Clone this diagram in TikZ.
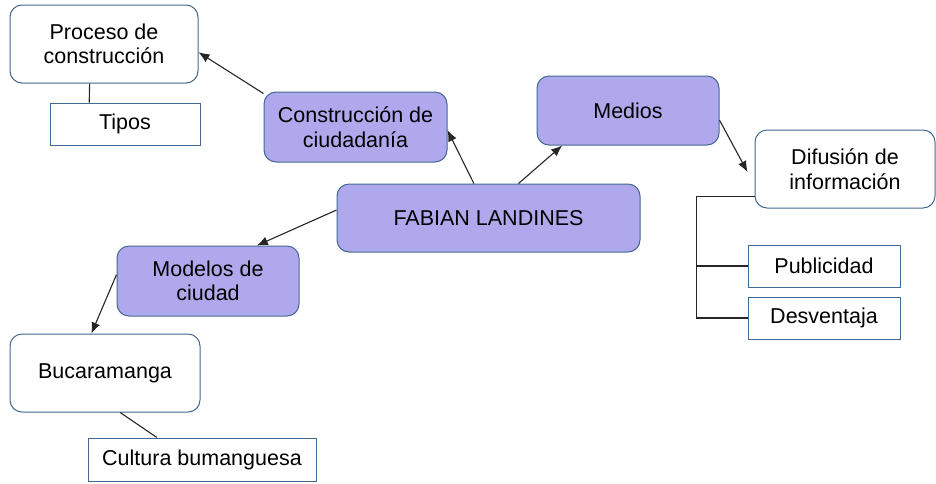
\documentclass[tikz,border=0pt]{standalone}
\usepackage{fontspec}
\setmainfont{Liberation Sans}
\usetikzlibrary{arrows.meta}
\definecolor{boxline}{RGB}{65,105,145}
\definecolor{boxfill}{RGB}{176,168,236}
\tikzset{
  topic/.style={draw=boxline, line width=1pt, rounded corners=12pt, fill=white,
    align=center, inner sep=0pt, font=\fontsize{21.5}{24.5}\selectfont},
  maintopic/.style={topic, fill=boxfill},
  detail/.style={draw=boxline, line width=1pt, fill=white, inner sep=0pt,
    font=\fontsize{21.5}{24.5}\selectfont},
  link/.style={draw=black!85, line width=1.1pt, -{Latex[length=11pt,width=9pt]}},
  tie/.style={draw=black!85, line width=1.1pt}
}
\begin{document}
\begin{tikzpicture}[x=1pt,y=-1pt]
\useasboundingbox (0,0) rectangle (936,483);

\node[maintopic, minimum width=303pt, minimum height=68pt] (fabian) at (488.5,218) {FABIAN LANDINES};
\node[maintopic, minimum width=183pt, minimum height=70pt] (cons) at (355.5,127) {Construcción de\\ciudadanía};
\node[maintopic, minimum width=182pt, minimum height=69pt] (medios) at (628,110.5) {Medios};
\node[maintopic, minimum width=182pt, minimum height=70pt] (modelos) at (208,281) {Modelos de\\ciudad};

\node[topic, minimum width=188pt, minimum height=78pt] (proc) at (104,44) {Proceso de\\construcción};
\node[topic, minimum width=180pt, minimum height=78pt] (difusion) at (845,169) {Difusión de\\información};
\node[topic, minimum width=190pt, minimum height=78pt] (buca) at (105,373) {Bucaramanga};

\node[detail, minimum width=150pt, minimum height=42pt] (tipos) at (125,124) {Tipos};
\node[detail, minimum width=152pt, minimum height=42pt] (publ) at (824,266) {Publicidad};
\node[detail, minimum width=152pt, minimum height=42pt] (desv) at (824,318) {Desventaja};
\node[detail, minimum width=228pt, minimum height=43pt] (cultura) at (202,459.5) {Cultura bumanguesa};

\draw[link] (fabian.113) -- (cons.-2);
\draw[link] (fabian.49) -- (medios.208);
\draw[link] (fabian.177) -- (modelos.36);
\draw[link] (cons.160) -- (proc.-5);
\draw[link] (medios.-6) -- ([shift={(-7,3)}]difusion.west);
\draw[link] (modelos.176) -- (buca.109);

\draw[tie] (proc.-110) -- (tipos.149);
\draw[tie] (buca.-69) -- (cultura.154);
\draw[tie] (difusion.197) -- ++(-58,0) coordinate (trunk) |- (desv.west);
\draw[tie] (trunk |- publ.west) -- (publ.west);
\end{tikzpicture}
\end{document}
